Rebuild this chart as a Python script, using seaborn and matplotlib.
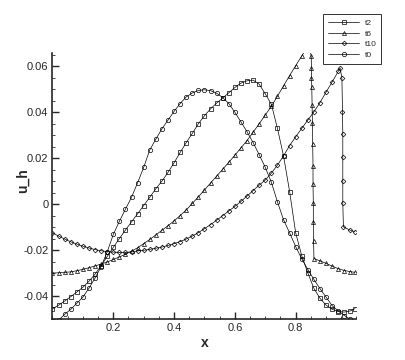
import numpy as np
import pandas as pd
import matplotlib
matplotlib.use("Agg")
import matplotlib.pyplot as plt
import seaborn as sns
from matplotlib.ticker import MultipleLocator

# ---------------- data ----------------
x_grid = [0.00, 0.02, 0.04, 0.06, 0.08, 0.10, 0.12, 0.14, 0.16, 0.18,
          0.20, 0.22, 0.24, 0.26, 0.28, 0.30, 0.32, 0.34, 0.36, 0.38,
          0.40, 0.42, 0.44, 0.46, 0.48, 0.50, 0.52, 0.54, 0.56, 0.58,
          0.60, 0.62, 0.64, 0.66, 0.68, 0.70, 0.72, 0.74, 0.76, 0.78,
          0.80, 0.82, 0.84, 0.86, 0.88, 0.90, 0.92, 0.94, 0.96, 0.98, 0.995]

t0_y = [-0.0530, -0.0505, -0.0480, -0.0458, -0.0432, -0.0405, -0.0366, -0.0322, -0.0272, -0.0208,
        -0.0132, -0.0075, -0.0022, 0.0030, 0.0093, 0.0160, 0.0236, 0.0283, 0.0328, 0.0366,
        0.0404, 0.0438, 0.0467, 0.0484, 0.0495, 0.0498, 0.0494, 0.0483, 0.0464, 0.0438,
        0.0400, 0.0358, 0.0315, 0.0268, 0.0215, 0.0160, 0.0095, 0.0010, -0.0068, -0.0125,
        -0.0185, -0.0238, -0.0285, -0.0328, -0.0368, -0.0405, -0.0442, -0.0465, -0.0485, -0.0502, -0.0520]

t2_y = [-0.0456, -0.0440, -0.0422, -0.0403, -0.0383, -0.0362, -0.0336, -0.0305, -0.0268, -0.0228,
        -0.0188, -0.0150, -0.0113, -0.0077, -0.0042, -0.0006, 0.0030, 0.0067, 0.0100, 0.0138,
        0.0180, 0.0225, 0.0268, 0.0308, 0.0350, 0.0385, 0.0415, 0.0440, 0.0462, 0.0485,
        0.0508, 0.0527, 0.0537, 0.0540, 0.0522, 0.0480, 0.0435, 0.0330, 0.0210, 0.0055,
        -0.0125, -0.0225, -0.0300, -0.0367, -0.0410, -0.0440, -0.0458, -0.0468, -0.0470, -0.0465, -0.0455]

t6_x = [0.00, 0.02, 0.04, 0.06, 0.08, 0.10, 0.12, 0.14, 0.16, 0.18,
        0.20, 0.22, 0.24, 0.26, 0.28, 0.30, 0.32, 0.34, 0.36, 0.38,
        0.40, 0.42, 0.44, 0.46, 0.48, 0.50, 0.52, 0.54, 0.56, 0.58,
        0.60, 0.62, 0.64, 0.66, 0.68, 0.70, 0.72, 0.74, 0.76, 0.78,
        0.80, 0.82, 0.84, 0.845,
        0.851, 0.852, 0.852, 0.853, 0.854, 0.855, 0.856, 0.857, 0.857, 0.858, 0.858, 0.859, 0.860,
        0.88, 0.90, 0.92, 0.94, 0.96, 0.98, 0.995]
t6_y = [-0.0300, -0.0299, -0.0297, -0.0295, -0.0290, -0.0284, -0.0277, -0.0269, -0.0261, -0.0252,
        -0.0241, -0.0230, -0.0218, -0.0205, -0.0190, -0.0172, -0.0154, -0.0134, -0.0114, -0.0094,
        -0.0073, -0.0050, -0.0025, 0.0003, 0.0032, 0.0062, 0.0092, 0.0122, 0.0152, 0.0182,
        0.0213, 0.0245, 0.0277, 0.0313, 0.0350, 0.0388, 0.0426, 0.0470, 0.0515, 0.0560,
        0.0603, 0.0645, 0.0688, 0.0699,
        0.0643, 0.0593, 0.0549, 0.0508, 0.0430, 0.0352, 0.0260, 0.0167, 0.0086, 0.0003, -0.0077, -0.0160, -0.0237,
        -0.0247, -0.0258, -0.0270, -0.0281, -0.0289, -0.0294, -0.0297]

t10_x = [0.00, 0.02, 0.04, 0.06, 0.08, 0.10, 0.12, 0.14, 0.16, 0.18,
         0.20, 0.22, 0.24, 0.26, 0.28, 0.30, 0.32, 0.34, 0.36, 0.38,
         0.40, 0.42, 0.44, 0.46, 0.48, 0.50, 0.52, 0.54, 0.56, 0.58,
         0.60, 0.62, 0.64, 0.66, 0.68, 0.70, 0.72, 0.74, 0.76, 0.78,
         0.80, 0.82, 0.84, 0.86, 0.88, 0.90, 0.92, 0.94, 0.946,
         0.952, 0.954, 0.955, 0.955, 0.955, 0.955, 0.957,
         0.978, 0.995]
t10_y = [-0.0125, -0.0139, -0.0152, -0.0164, -0.0174, -0.0183, -0.0191, -0.0198, -0.0203, -0.0207,
         -0.0209, -0.0210, -0.0210, -0.0208, -0.0204, -0.0201, -0.0197, -0.0192, -0.0187, -0.0180,
         -0.0172, -0.0163, -0.0152, -0.0139, -0.0124, -0.0107, -0.0089, -0.0070, -0.0050, -0.0030,
         -0.0010, 0.0012, 0.0035, 0.0059, 0.0083, 0.0105, 0.0135, 0.0170, 0.0210, 0.0255,
         0.0293, 0.0330, 0.0366, 0.0402, 0.0442, 0.0488, 0.0532, 0.0578, 0.0593,
         0.0549, 0.0403, 0.0306, 0.0207, 0.0102, 0.0003, -0.0099,
         -0.0113, -0.0121]

series_names = ["t2", "t6", "t10", "t0"]
series_markers = {"t2": "s", "t6": "^", "t10": "D", "t0": "o"}
marker_sizes = {"t2": 2.5, "t6": 2.9, "t10": 2.4, "t0": 3.1}

frames = {
    "t2": pd.DataFrame({"x": x_grid, "u_h": t2_y}),
    "t6": pd.DataFrame({"x": t6_x, "u_h": t6_y}),
    "t10": pd.DataFrame({"x": t10_x, "u_h": t10_y}),
    "t0": pd.DataFrame({"x": x_grid, "u_h": t0_y}),
}

# ---------------- figure ----------------
sns.set_style("ticks")
plt.rcParams["font.family"] = ["Liberation Sans", "DejaVu Sans"]

fig = plt.figure(figsize=(4.05, 3.6), dpi=100)
ax = fig.add_axes([0.1296, 0.114, 0.7506, 0.740])

handles = []
for name in series_names:
    df = frames[name]
    sns.lineplot(data=df, x="x", y="u_h", ax=ax, sort=False, estimator=None,
                 color="black", linewidth=0.5,
                 marker=series_markers[name], markersize=marker_sizes[name],
                 markerfacecolor="none", markeredgecolor="black",
                 markeredgewidth=0.5, legend=False)
    handles.append(ax.lines[-1])

ax.set_xlim(0, 1.0)
ax.set_ylim(-0.050, 0.066)

ax.xaxis.set_major_locator(MultipleLocator(0.2))
ax.xaxis.set_minor_locator(MultipleLocator(0.05))
ax.yaxis.set_major_locator(MultipleLocator(0.02))
ax.yaxis.set_minor_locator(MultipleLocator(0.005))
ax.set_xticks([0.2, 0.4, 0.6, 0.8])
ax.set_yticks([-0.04, -0.02, 0, 0.02, 0.04, 0.06])
ax.set_yticklabels(["-0.04", "-0.02", "0", "0.02", "0.04", "0.06"])
ax.set_xticklabels(["0.2", "0.4", "0.6", "0.8"])

ax.tick_params(which="major", direction="in", length=5, width=1.0, labelsize=8, pad=3)
ax.tick_params(which="minor", direction="in", length=2.5, width=0.6)

for side in ["top", "right"]:
    ax.spines[side].set_visible(False)
for side in ["left", "bottom"]:
    ax.spines[side].set_linewidth(1.2)

ax.set_xlabel("x", fontsize=10, fontweight="bold", labelpad=2)
ax.set_ylabel("u_h", fontsize=10, fontweight="bold")
ax.yaxis.set_label_coords(-0.074, 0.52)

leg = fig.legend(handles, series_names, loc="upper left",
                 bbox_to_anchor=(0.797, 0.961), fontsize=6,
                 handlelength=3.8, handletextpad=0.6, labelspacing=0.35,
                 borderpad=0.6, borderaxespad=0, frameon=True, fancybox=False)
leg.get_frame().set_edgecolor("black")
leg.get_frame().set_linewidth(0.7)

fig.savefig("out.png", dpi=100)
